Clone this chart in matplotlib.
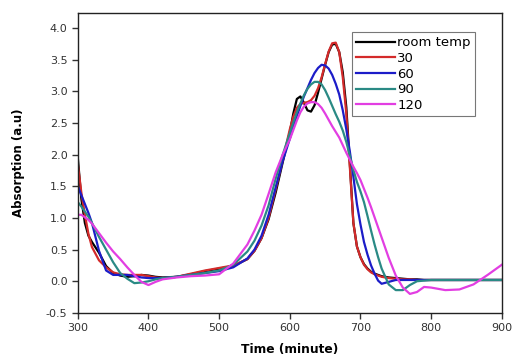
#!/usr/bin/env python3
import matplotlib
matplotlib.use('Agg')
import matplotlib.pyplot as plt

plt.rcParams['font.family'] = ['DejaVu Sans']
plt.rcParams['axes.unicode_minus'] = False

# time grid (minute)
t = [300, 305, 310, 315, 320, 330, 340, 350, 360, 370, 380, 390, 400, 410, 420,
     440, 460, 480, 500, 520, 540, 550, 560, 570, 580, 590, 600, 605, 610, 615,
     620, 625, 630, 635, 640, 645, 650, 655, 660, 665, 670, 675, 680, 685, 690,
     695, 700, 705, 710, 715, 720, 725, 730, 740, 750, 760, 770, 780, 790, 800,
     820, 840, 860, 880, 900]

room_temp = [1.95, 1.30, 0.92, 0.72, 0.62, 0.45, 0.24, 0.13, 0.09, 0.07, 0.08, 0.10, 0.09, 0.07, 0.06,
             0.07, 0.11, 0.16, 0.20, 0.24, 0.35, 0.48, 0.68, 0.98, 1.40, 1.88, 2.35, 2.65, 2.88, 2.92,
             2.82, 2.70, 2.68, 2.78, 2.98, 3.20, 3.42, 3.62, 3.74, 3.75, 3.62, 3.30, 2.75, 1.85, 0.92,
             0.55, 0.38, 0.27, 0.20, 0.15, 0.12, 0.10, 0.08, 0.06, 0.05, 0.04, 0.03, 0.03, 0.02, 0.02,
             0.02, 0.02, 0.02, 0.02, 0.02]

m30 = [1.85, 1.40, 1.05, 0.75, 0.54, 0.33, 0.22, 0.14, 0.11, 0.10, 0.10, 0.10, 0.08, 0.06, 0.05,
       0.07, 0.12, 0.17, 0.21, 0.25, 0.35, 0.48, 0.68, 1.00, 1.45, 1.92, 2.40, 2.60, 2.74, 2.80,
       2.82, 2.83, 2.86, 2.93, 3.05, 3.22, 3.43, 3.63, 3.76, 3.77, 3.62, 3.22, 2.65, 1.80, 0.92,
       0.55, 0.38, 0.26, 0.19, 0.14, 0.11, 0.09, 0.07, 0.05, 0.04, 0.03, 0.03, 0.02, 0.02, 0.02,
       0.02, 0.02, 0.02, 0.02, 0.02]

m60 = [1.50, 1.36, 1.22, 1.08, 0.92, 0.48, 0.17, 0.10, 0.10, 0.10, 0.08, 0.06, 0.05, 0.05, 0.05,
       0.07, 0.10, 0.13, 0.16, 0.22, 0.36, 0.50, 0.72, 1.05, 1.48, 1.90, 2.25, 2.44, 2.61, 2.77,
       2.92, 3.05, 3.18, 3.29, 3.37, 3.42, 3.41, 3.36, 3.26, 3.12, 2.95, 2.70, 2.40, 2.05, 1.65,
       1.22, 0.90, 0.62, 0.42, 0.25, 0.12, 0.01, -0.04, -0.01, 0.02, 0.02, 0.02, 0.02, 0.02, 0.02,
       0.02, 0.02, 0.02, 0.02, 0.02]

m90 = [1.25, 1.18, 1.10, 1.02, 0.92, 0.70, 0.50, 0.30, 0.13, 0.04, -0.03, -0.02, 0.00, 0.03, 0.05,
       0.07, 0.10, 0.13, 0.17, 0.26, 0.47, 0.64, 0.88, 1.20, 1.62, 2.00, 2.34, 2.51, 2.67, 2.81,
       2.94, 3.04, 3.11, 3.15, 3.15, 3.11, 3.02, 2.90, 2.77, 2.64, 2.52, 2.38, 2.20, 1.98, 1.76,
       1.57, 1.42, 1.25, 1.03, 0.80, 0.58, 0.38, 0.20, -0.05, -0.14, -0.14, -0.06, 0.00, 0.01, 0.02,
       0.02, 0.02, 0.02, 0.02, 0.02]

m120 = [1.05, 1.05, 1.01, 0.97, 0.91, 0.76, 0.61, 0.47, 0.35, 0.22, 0.10, -0.01, -0.06, -0.01, 0.03,
        0.06, 0.08, 0.09, 0.11, 0.28, 0.58, 0.80, 1.05, 1.38, 1.72, 2.00, 2.24, 2.39, 2.54, 2.67,
        2.76, 2.81, 2.83, 2.83, 2.80, 2.74, 2.65, 2.55, 2.45, 2.36, 2.27, 2.15, 2.03, 1.92, 1.81,
        1.71, 1.60, 1.46, 1.32, 1.17, 1.01, 0.85, 0.69, 0.37, 0.09, -0.10, -0.20, -0.17, -0.09, -0.10,
        -0.14, -0.13, -0.05, 0.10, 0.26]

labels = ['room temp', '30', '60', '90', '120']
colors = ['#000000', '#d42a2a', '#1c1cc8', '#2a8a85', '#e23ee2']


def main():
    fig = plt.figure(figsize=(5.12, 3.58), dpi=100)
    ax = fig.add_axes([0.152, 0.126, 0.828, 0.838])

    for ys, lab, c in zip([room_temp, m30, m60, m90, m120], labels, colors):
        ax.plot(t, ys, color=c, lw=1.6, label=lab, solid_joinstyle='round')

    ax.set_xlim(300, 900)
    ax.set_ylim(-0.5, 4.24)
    ax.set_xticks(range(300, 901, 100))
    ax.set_yticks([-0.5, 0.0, 0.5, 1.0, 1.5, 2.0, 2.5, 3.0, 3.5, 4.0])
    ax.tick_params(direction='out', length=4, width=1, labelsize=8, colors='#333333',
                   top=False, right=False)
    for sp in ax.spines.values():
        sp.set_linewidth(1.0)
        sp.set_color('#222222')

    ax.set_xlabel('Time (minute)', fontsize=8.8, fontweight='bold', labelpad=7)
    ax.set_ylabel('Absorption (a.u)', fontsize=8.5, fontweight='bold', labelpad=15)

    leg = ax.legend(loc='upper right', bbox_to_anchor=(0.936, 0.935), fontsize=9.5,
                    fancybox=False, framealpha=1, edgecolor='#777777', handlelength=2.9,
                    handletextpad=0.2, labelspacing=0.2, borderpad=0.3, borderaxespad=0)
    leg.get_frame().set_linewidth(0.8)

    fig.savefig('out.png', dpi=100)


if __name__ == '__main__':
    main()
